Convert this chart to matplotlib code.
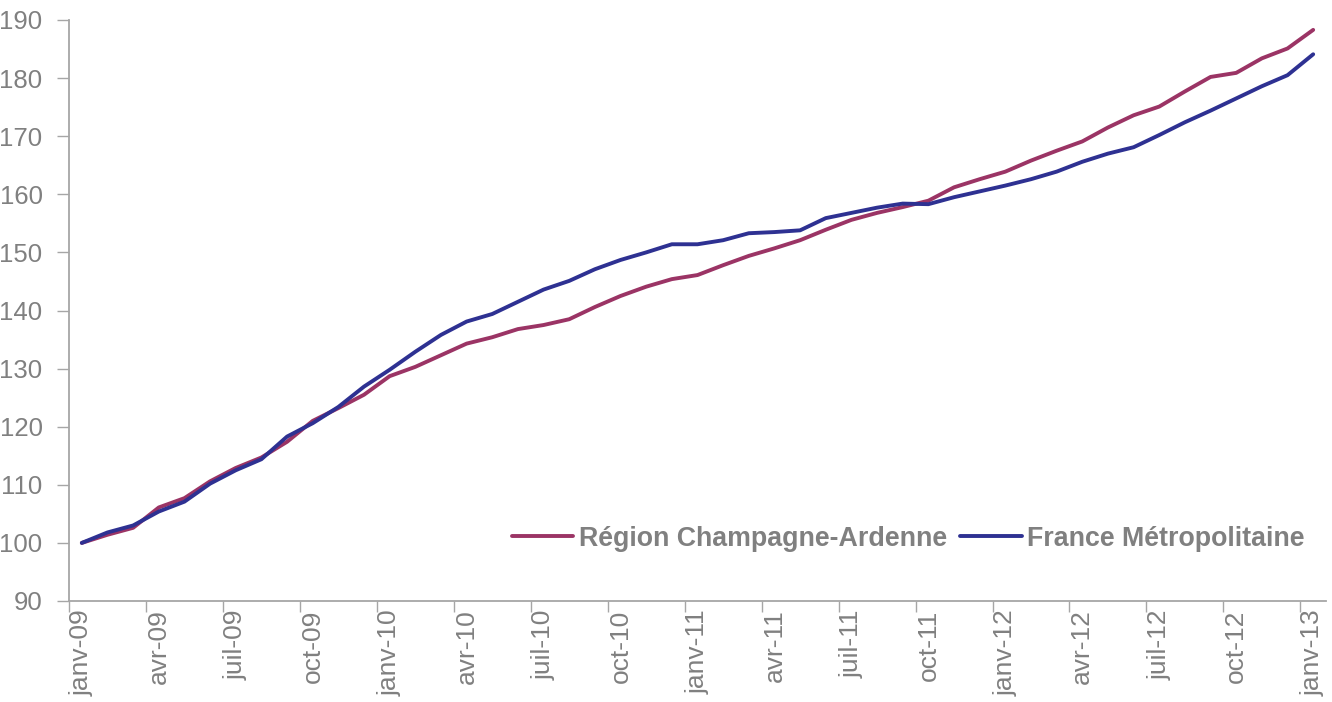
import matplotlib
matplotlib.use("Agg")
import matplotlib.pyplot as plt
import numpy as np

plt.rcParams['font.family'] = ['Liberation Sans', 'DejaVu Sans']

# Monthly index, janv-09 .. janv-13 (base 100)
region = [100.0, 101.4, 102.6, 106.1, 107.7, 110.6, 112.9, 114.7, 117.4, 121.0,
          123.2, 125.5, 128.7, 130.3, 132.3, 134.3, 135.4, 136.8, 137.5, 138.5,
          140.6, 142.5, 144.1, 145.4, 146.1, 147.8, 149.4, 150.7, 152.1, 153.9,
          155.6, 156.8, 157.8, 158.9, 161.2, 162.6, 163.9, 165.8, 167.5, 169.1,
          171.5, 173.6, 175.1, 177.7, 180.2, 180.9, 183.4, 185.1, 188.3]
france = [100.0, 101.8, 103.0, 105.4, 107.1, 110.2, 112.5, 114.4, 118.3, 120.6,
          123.4, 126.9, 129.8, 132.9, 135.8, 138.1, 139.4, 141.5, 143.6, 145.1,
          147.1, 148.7, 150.0, 151.4, 151.4, 152.1, 153.3, 153.5, 153.8, 155.9,
          156.8, 157.7, 158.4, 158.3, 159.5, 160.5, 161.5, 162.6, 163.9, 165.6,
          167.0, 168.1, 170.2, 172.4, 174.4, 176.5, 178.6, 180.5, 184.1]
tick_labels = ['janv-09', 'avr-09', 'juil-09', 'oct-09',
               'janv-10', 'avr-10', 'juil-10', 'oct-10',
               'janv-11', 'avr-11', 'juil-11', 'oct-11',
               'janv-12', 'avr-12', 'juil-12', 'oct-12', 'janv-13']
series_names = ['Région Champagne-Ardenne', 'France Métropolitaine']

gray_txt = '#808080'
gray_axis = '#A6A6A6'

fig = plt.figure(figsize=(13.32, 7.02), dpi=100)
ax = fig.add_axes([69/1332, 1 - 601/702, (1326 - 69)/1332, (601 - 20)/702])

x = np.arange(len(region))
ax.plot(x, region, color='#9B3465', lw=2.8, label=series_names[0], solid_capstyle='round')
ax.plot(x, france, color='#2E3192', lw=2.8, label=series_names[1], solid_capstyle='round')

ax.set_xlim(-0.5, len(region) - 0.5)
ax.set_ylim(90, 190)
ax.set_yticks(np.arange(90, 191, 10))

label_pos = np.arange(0, len(region), 3)
ax.set_xticks(label_pos - 0.5)
ax.set_xticklabels([])
ax.set_xticks(label_pos, minor=True)
ax.set_xticklabels(tick_labels, minor=True, rotation=90)
ax.tick_params(axis='x', which='minor', length=0, pad=6, labelsize=19)
ax.tick_params(axis='x', which='major', length=8, width=1, color=gray_axis, direction='out')
ax.tick_params(axis='y', length=9, width=1, color=gray_axis, direction='out', pad=10,
               labelsize=18.5)
ax.tick_params(axis='both', which='both', labelcolor=gray_txt)

for s in ['top', 'right']:
    ax.spines[s].set_visible(False)
for s in ['left', 'bottom']:
    ax.spines[s].set_color(gray_axis)
    ax.spines[s].set_linewidth(1.3)

leg = ax.legend(loc='center left', bbox_to_anchor=(0.3524, 0.107), ncol=2,
                frameon=False, borderaxespad=0, borderpad=0,
                handlelength=2.3, handletextpad=0.2, columnspacing=0.5,
                prop={'size': 19.25, 'weight': 'bold'})
for t in leg.get_texts():
    t.set_color(gray_txt)

fig.savefig('out.png', dpi=100)
